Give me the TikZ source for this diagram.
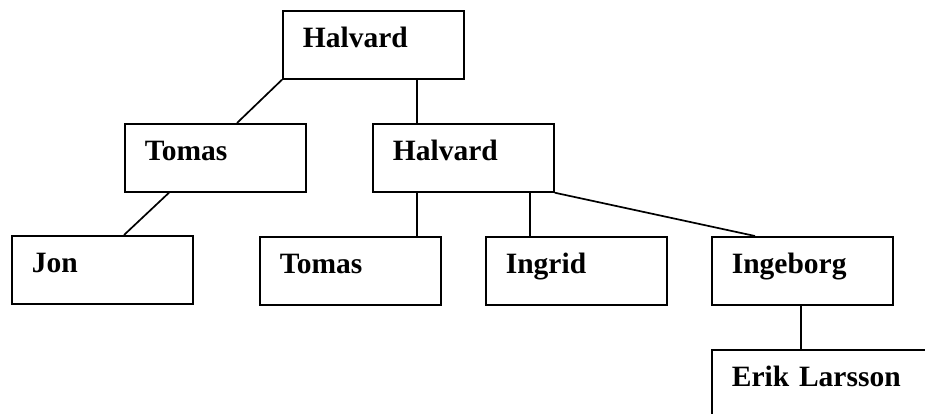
\documentclass[tikz,border=0pt]{standalone}
\usepackage{fontspec}
\setmainfont{Liberation Serif}
\begin{document}
\begin{tikzpicture}[x=1pt,y=-1pt,line width=1.7pt,pb/.style={draw,rectangle,anchor=north west,
					inner xsep=20pt,inner ysep=0pt,text width=141pt,align=left,text height=37pt,
					text depth=31pt,font=\fontsize{29.5pt}{35pt}\selectfont\bfseries}]
		\useasboundingbox (0,0) rectangle (925,413);
		\clip (0,0) rectangle (925,413);
		\node[pb] (halv1) at (282,10) {Halvard};
		\node[pb] (tom1) at (124,123) {Tomas};
		\node[pb] (halv2) at (372,123) {Halvard};
		\node[pb] (jon) at (11,235) {Jon};
		\node[pb] (tom2) at (259,236) {Tomas};
		\node[pb] (ingrid) at (485,236) {Ingrid};
		\node[pb] (ingeb) at (711,236) {Ingeborg};
		\node[pb,text width=200pt] (erik) at (711,349) {Erik Larsson};
		\draw (halv1.south west) -- ([xshift=113pt]tom1.north west);
		\draw ([xshift=135pt]halv1.south west) -- ([xshift=45pt]halv2.north west);
		\draw ([xshift=45pt]tom1.south west) -- ([xshift=113pt]jon.north west);
		\draw ([xshift=45pt]halv2.south west) -- ([xshift=158pt]tom2.north west);
		\draw ([xshift=158pt]halv2.south west) -- ([xshift=45pt]ingrid.north west);
		\draw (halv2.south east) -- ([xshift=44pt]ingeb.north west);
		\draw ([xshift=90pt]ingeb.south west) -- ([xshift=90pt]erik.north west);
	\end{tikzpicture}
\end{document}
